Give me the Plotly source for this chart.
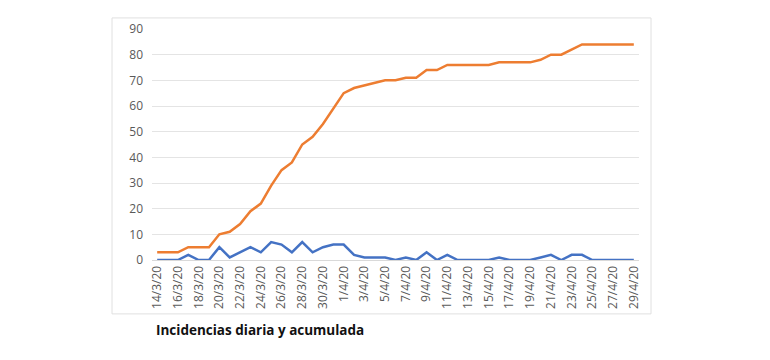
import plotly.graph_objects as go

fechas = ["14/3/20","15/3/20","16/3/20","17/3/20","18/3/20","19/3/20","20/3/20","21/3/20","22/3/20",
          "23/3/20","24/3/20","25/3/20","26/3/20","27/3/20","28/3/20","29/3/20","30/3/20","31/3/20",
          "1/4/20","2/4/20","3/4/20","4/4/20","5/4/20","6/4/20","7/4/20","8/4/20","9/4/20","10/4/20",
          "11/4/20","12/4/20","13/4/20","14/4/20","15/4/20","16/4/20","17/4/20","18/4/20","19/4/20",
          "20/4/20","21/4/20","22/4/20","23/4/20","24/4/20","25/4/20","26/4/20","27/4/20","28/4/20","29/4/20"]
diaria = [0,0,0,2,0,0,5,1,3,5,3,7,6,3,7,3,5,6,6,2,1,1,1,0,1,0,3,0,2,0,0,0,0,1,0,0,0,1,2,0,2,2,0,0,0,0,0]
acumulada = [3,3,3,5,5,5,10,11,14,19,22,29,35,38,45,48,53,59,65,67,68,69,70,70,71,71,74,74,76,76,
             76,76,76,77,77,77,77,78,80,80,82,84,84,84,84,84,84]
y_ticks = [0,10,20,30,40,50,60,70,80,90]
titulo = "Incidencias diaria y acumulada"

fig = go.Figure()
fig.add_trace(go.Scatter(x=fechas, y=acumulada, mode="lines",
                         line=dict(color="#ED7D31", width=2.5), name="Acumulada"))
fig.add_trace(go.Scatter(x=fechas, y=diaria, mode="lines",
                         line=dict(color="#4472C4", width=2.5), name="Diaria"))

OFF = 8  # page offset of the figure in the browser
L, R, T, B = 152 - OFF, 639 - OFF, 20 - OFF, 260 - OFF
W, H = 770, 360
pw, ph = R - L, B - T

def px(x):
    return (x - OFF - L) / pw

def py(y):
    return (B - (y - OFF)) / ph

fig.update_layout(
    width=W, height=H,
    margin=dict(l=L, r=W - R, t=T, b=H - B, pad=0),
    paper_bgcolor="white", plot_bgcolor="white",
    showlegend=False,
    font=dict(family="Open Sans, Liberation Sans, sans-serif", color="#595959", size=11),
    xaxis=dict(type="category", range=[-0.5, len(fechas) - 0.5],
               tickvals=fechas[::2], ticktext=fechas[::2], tickangle=-90,
               showgrid=False, showline=True, linecolor="#D9D9D9", linewidth=1,
               ticks="", tickfont=dict(size=12, color="#595959"), zeroline=False),
    yaxis=dict(range=[0, 90], tickvals=y_ticks, showgrid=True, gridcolor="#E4E4E4",
               gridwidth=1, zeroline=False, showline=False, ticks="",
               ticklabelstandoff=8,
               tickfont=dict(size=12, color="#595959")),
    shapes=[dict(type="rect", xref="paper", yref="paper",
                 x0=px(112), x1=px(651), y0=py(316), y1=py(8.5),
                 line=dict(color="#E0E0E0", width=1), fillcolor="rgba(0,0,0,0)", layer="below")],
    annotations=[dict(text="<b>" + titulo + "</b>", xref="paper", yref="paper",
                      x=px(154), y=py(333), xanchor="left", yanchor="middle", showarrow=False,
                      font=dict(size=13.5, color="#111111",
                                family="Open Sans, Liberation Sans, sans-serif"))],
)

fig.write_html("out.html")
